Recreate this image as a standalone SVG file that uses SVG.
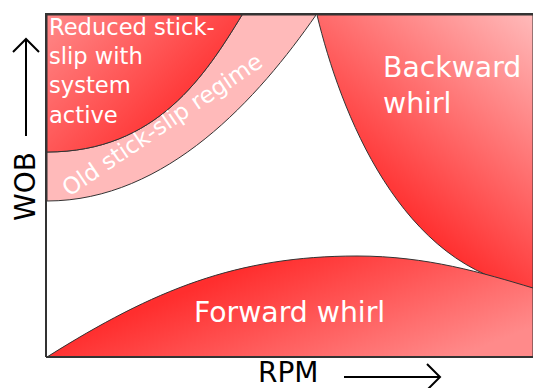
<svg xmlns="http://www.w3.org/2000/svg" width="533" height="388" viewBox="0 0 533 388">
<defs>
<linearGradient id="gReduced" gradientUnits="userSpaceOnUse" x1="47" y1="15" x2="170" y2="140">
<stop offset="0" stop-color="#ff8a8a"/>
<stop offset="1" stop-color="#ff2e2e"/>
</linearGradient>
<linearGradient id="gBackward" gradientUnits="userSpaceOnUse" x1="533" y1="15" x2="380" y2="200">
<stop offset="0" stop-color="#ffbaba"/>
<stop offset="1" stop-color="#ff2e2e"/>
</linearGradient>
<linearGradient id="gForward" gradientUnits="userSpaceOnUse" x1="340" y1="230" x2="400" y2="380">
<stop offset="0" stop-color="#ff2e2e"/>
<stop offset="1" stop-color="#ff8a8a"/>
</linearGradient>
<style>
.edge{stroke:#333;stroke-width:1;}
.lbl{font-family:"DejaVu Sans","Liberation Sans",sans-serif;fill:#fff;}
.axis{font-family:"DejaVu Sans","Liberation Sans",sans-serif;fill:#000;font-size:28px;}
.arr{fill:none;stroke:#000;stroke-width:2;}
</style>
</defs>
<rect width="533" height="388" fill="#fff"/>
<g id="old-stick-slip">
<path class="edge" d="M47,152 C157,152 205.6,74.5 242,15 L316,15 C259,97 167,201 47,201 Z" fill="#ffbaba"/>
<text class="lbl" font-size="23" transform="translate(69,197) rotate(-34)">Old stick-slip regime</text>
</g>
<g id="reduced-stick-slip">
<path class="edge" d="M47,15 L242,15 C205.6,74.5 157,152 47,152 Z" fill="url(#gReduced)"/>
<text class="lbl" font-size="22.6" x="49" y="35">Reduced stick-</text>
<text class="lbl" font-size="22.6" x="49" y="64">slip with</text>
<text class="lbl" font-size="22.6" x="49" y="93">system</text>
<text class="lbl" font-size="22.6" x="49" y="122.5">active</text>
</g>
<g id="backward-whirl">
<path class="edge" d="M317,15 C340,110 400,270 533,288 L533,15 Z" fill="url(#gBackward)"/>
<text class="lbl" font-size="28.3" x="383" y="77">Backward</text>
<text class="lbl" font-size="28.3" x="383" y="113">whirl</text>
</g>
<g id="forward-whirl">
<path class="edge" d="M47,357 C154.5,289.5 237,256 357,256 C427,256 483,273 533,288 L533,357 Z" fill="url(#gForward)"/>
<text class="lbl" font-size="28.3" x="194" y="322">Forward whirl</text>
</g>
<g id="axes">
<path d="M46,357 L46,14 L533,14 M46,357 L533,357" fill="none" stroke="#333" stroke-width="2"/>
</g>
<g id="connectors">
<path class="arr" d="M26,136 L26,39 M13,52 L26,39 L39,52"/>
<path class="arr" d="M344,377 L440,377 M427,364 L440,377 L427,390"/>
</g>
<g id="axis-labels">
<text class="axis" x="258" y="382">RPM</text>
<text class="axis" transform="translate(35,221) rotate(-90)">WOB</text>
</g>
</svg>
